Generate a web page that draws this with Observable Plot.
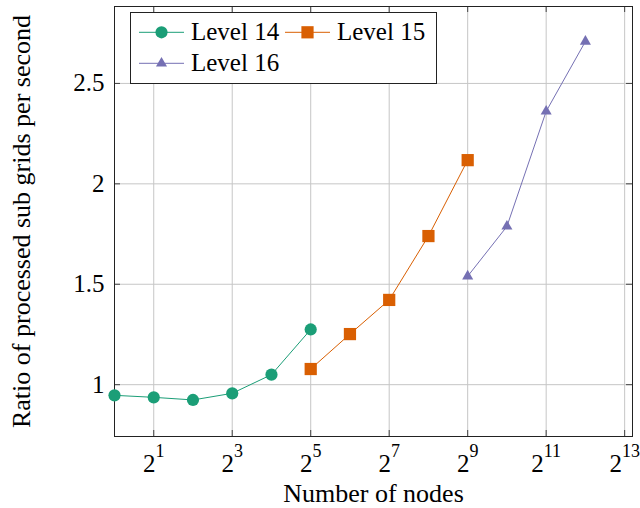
<!DOCTYPE html>
<html>
<head>
<meta charset="utf-8">
<script src="https://cdn.jsdelivr.net/npm/d3@7"></script>
<script src="https://cdn.jsdelivr.net/npm/@observablehq/plot@0.6"></script>
<style>
  html, body { margin: 0; padding: 0; background: white; }
</style>
</head>
<body>
<div id="chart"></div>
<script>
// ---- data ----
const seriesNames = ["Level 14", "Level 15", "Level 16"];
const nodes14 = [1, 2, 4, 8, 16, 32];
const ratio14 = [0.947, 0.937, 0.924, 0.957, 1.05, 1.275];
const nodes15 = [32, 64, 128, 256, 512];
const ratio15 = [1.078, 1.252, 1.422, 1.74, 2.118];
const nodes16 = [512, 1024, 2048, 4096];
const ratio16 = [1.54, 1.788, 2.361, 2.709];
const xTicks = [2, 8, 32, 128, 512, 2048, 8192];
const yTicks = [1, 1.5, 2, 2.5];
const xLabel = "Number of nodes";
const yLabel = "Ratio of processed sub grids per second";
const colors = ["#1b9e77", "#d95f02", "#7570b3"];
const symbols = ["circle", "square", "triangle"];
const symbolR = [6.1, 6.9, 4.1];

const series = [
  {name: seriesNames[0], nodes: nodes14, ratio: ratio14},
  {name: seriesNames[1], nodes: nodes15, ratio: ratio15},
  {name: seriesNames[2], nodes: nodes16, ratio: ratio16}
].map((s, i) => ({...s, rows: s.nodes.map((n, j) => ({x: n, y: s.ratio[j]})), color: colors[i], symbol: symbols[i], r: symbolR[i]}));

const W = 640, H = 508, mL = 114, mR = 8, mT = 6, mB = 72;
const pw = W - mL - mR, ph = H - mT - mB;
const FONT = "Liberation Serif";
const tickLen = 6;

const marks = [
  Plot.gridX(xTicks, {stroke: "#c6c6c6", strokeOpacity: 1}),
  Plot.gridY(yTicks, {stroke: "#c6c6c6", strokeOpacity: 1}),
  Plot.ruleX(xTicks, {insetTop: ph - tickLen, stroke: "#444"}),
  Plot.ruleX(xTicks, {insetBottom: ph - tickLen, stroke: "#444"}),
  Plot.ruleY(yTicks, {insetRight: pw - tickLen, stroke: "#444"}),
  Plot.ruleY(yTicks, {insetLeft: pw - tickLen, stroke: "#444"}),
  Plot.frame({stroke: "#222"}),
  Plot.axisX(xTicks, {tickSize: 0, tickPadding: 18, tickFormat: d => String(Math.round(Math.log2(d))), label: null, fontSize: 25}),
  Plot.axisY(yTicks, {tickSize: 0, tickPadding: 10, tickFormat: d => String(d), label: null, fontSize: 25}),
  Plot.text([xLabel], {frameAnchor: "bottom", dy: 65, lineAnchor: "bottom", textAnchor: "middle", text: d => d, fontSize: 26}),
  Plot.text([yLabel], {frameAnchor: "left", dx: -85, rotate: -90, lineAnchor: "bottom", textAnchor: "middle", text: d => d, fontSize: 26})
];
for (const s of series) {
  marks.push(Plot.line(s.rows, {x: "x", y: "y", stroke: s.color, strokeWidth: 1}));
  marks.push(Plot.dot(s.rows, {x: "x", y: "y", symbol: s.symbol, r: s.r, fill: s.color, stroke: "none"}));
}

const chart = Plot.plot({
  width: W, height: H,
  marginLeft: mL, marginRight: mR, marginTop: mT, marginBottom: mB,
  style: {fontFamily: FONT, fontSize: "25px", color: "#000", background: "white", overflow: "visible"},
  x: {type: "log", base: 2, domain: [1, 2 ** 13.2]},
  y: {domain: [0.742, 2.883]},
  marks
});
document.getElementById("chart").appendChild(chart);

// superscript exponents on x tick labels
const svg = d3.select(chart.tagName === "svg" ? chart : chart.querySelector("svg"));
svg.selectAll('g[aria-label="x-axis tick label"] text').each(function() {
  const t = d3.select(this);
  const e = t.text();
  t.text(null);
  t.append("tspan").text("2");
  t.append("tspan").attr("dy", -15).attr("font-size", 18).text(e);
});

// legend (inside plot)
const lg = svg.append("g").attr("font-family", FONT).attr("font-size", 25).attr("text-anchor", "start");
lg.append("rect").attr("x", 130.5).attr("y", 12.5).attr("width", 306).attr("height", 71)
  .attr("fill", "white").attr("stroke", "#222").attr("stroke-width", 1);
const entries = [
  {x: 139, y: 32.3},
  {x: 285, y: 32.3},
  {x: 139, y: 63.3}
];
const d3sym = {circle: d3.symbolCircle, square: d3.symbolSquare, triangle: d3.symbolTriangle};
series.forEach((s, i) => {
  const e = entries[i];
  lg.append("line").attr("x1", e.x).attr("x2", e.x + 45).attr("y1", e.y).attr("y2", e.y)
    .attr("stroke", s.color).attr("stroke-width", 1);
  lg.append("path").attr("transform", `translate(${e.x + 22.5},${e.y})`)
    .attr("d", d3.symbol(d3sym[s.symbol], Math.PI * s.r * s.r)()).attr("fill", s.color);
  lg.append("text").attr("x", e.x + 52).attr("y", e.y + 7.5).attr("text-anchor", "start").text(s.name);
});
</script>
</body>
</html>
